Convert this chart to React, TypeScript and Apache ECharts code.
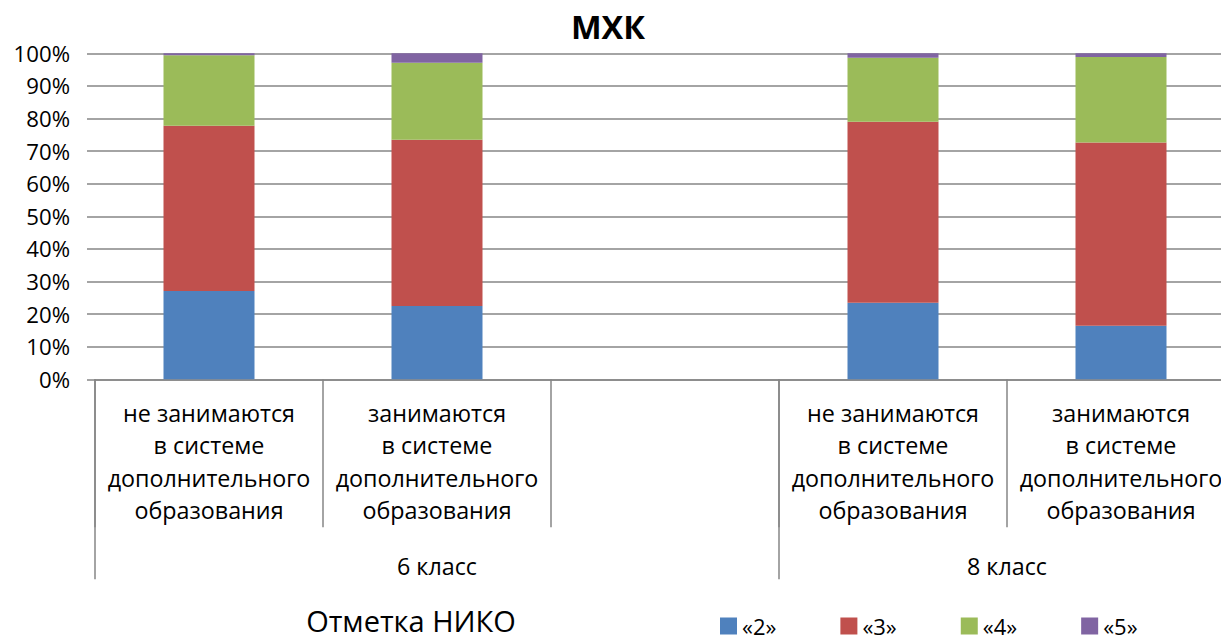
import React, { useEffect, useRef } from "react";
import * as echarts from "echarts";

const categories = [
  "не занимаются\nв системе\nдополнительного\nобразования",
  "занимаются\nв системе\nдополнительного\nобразования",
  "",
  "не занимаются\nв системе\nдополнительного\nобразования",
  "занимаются\nв системе\nдополнительного\nобразования",
];
const groupLabels = ["6 класс", "8 класс"];
const groupLabelPositions = [1.5, 4];
const groupBoundaries = [0, 3, 5];
const seriesNames = ["«2»", "«3»", "«4»", "«5»"];
const grade2 = [27.1, 22.5, "-", 23.5, 16.4];
const grade3 = [50.7, 51.0, "-", 55.5, 56.2];
const grade4 = [21.6, 23.6, "-", 19.6, 26.3];
const grade5 = [0.6, 2.9, "-", 1.4, 1.1];
const colors = ["#4F81BD", "#C0504D", "#9BBB59", "#8064A2"];
const yTicks = [0, 10, 20, 30, 40, 50, 60, 70, 80, 90, 100];

const FONT = "'Open Sans', 'Noto Sans', sans-serif";
const GRAY = "#868686";

export default function App() {
  const ref = useRef<HTMLDivElement>(null);
  useEffect(() => {
    if (!ref.current) return;
    const chart = echarts.init(ref.current, null, { renderer: "svg" });
    const values = [grade2, grade3, grade4, grade5];
    chart.setOption({
      animation: false,
      color: colors,
      textStyle: { fontFamily: FONT, color: "#000" },
      title: [
        {
          text: "МХК",
          left: 603,
          top: 5,
          textAlign: "center",
          textStyle: { fontFamily: FONT, fontWeight: "bold", fontSize: 32.5, color: "#000" },
        },
        {
          text: "Отметка НИКО",
          left: 406,
          top: 601,
          textAlign: "center",
          textStyle: { fontFamily: FONT, fontWeight: "normal", fontSize: 29, color: "#000" },
        },
      ],
      legend: {
        left: 715,
        top: 610,
        padding: 5,
        icon: "rect",
        itemWidth: 17,
        itemHeight: 17,
        itemGap: 64,
        textStyle: { fontFamily: FONT, fontSize: 22, color: "#000" },
        data: seriesNames,
      },
      grid: { left: 95, top: 53.3, width: 1140, height: 326, containLabel: false },
      xAxis: [
        {
          type: "category",
          data: categories,
          boundaryGap: true,
          axisLine: { show: true, lineStyle: { color: GRAY, width: 1.5 } },
          axisTick: { show: true, interval: 0, length: 148, lineStyle: { color: GRAY, width: 1.5 } },
          axisLabel: {
            interval: 0,
            margin: 17,
            fontFamily: FONT,
            fontSize: 23.3,
            lineHeight: 32.6,
            color: "#000",
            align: "center",
          },
        },
        {
          type: "value",
          position: "bottom",
          min: 0,
          max: 5,
          axisLine: { show: false },
          splitLine: { show: false },
          axisTick: {
            show: true,
            customValues: groupBoundaries,
            length: 200,
            lineStyle: { color: GRAY, width: 1.5 },
          },
          axisLabel: {
            customValues: groupLabelPositions,
            margin: 170,
            fontFamily: FONT,
            fontSize: 23.3,
            lineHeight: 32.6,
            color: "#000",
            formatter: (v: number) => {
              const i = groupLabelPositions.indexOf(v);
              return i >= 0 ? groupLabels[i] : "";
            },
          },
        },
      ],
      yAxis: {
        type: "value",
        min: 0,
        max: 100,
        interval: 10,
        axisLine: { show: false },
        axisTick: { show: true, length: 8, lineStyle: { color: GRAY, width: 1.5 } },
        splitLine: { show: true, lineStyle: { color: GRAY, width: 1.5 } },
        axisLabel: {
          margin: 25,
          fontFamily: FONT,
          fontSize: 22.2,
          color: "#000",
          formatter: (v: number) => (yTicks.includes(v) ? v + "%" : ""),
        },
      },
      series: seriesNames.map((name, i) => ({
        name,
        type: "bar",
        stack: "total",
        barWidth: 91,
        data: values[i],
        itemStyle: { color: colors[i] },
      })),
    });
    return () => chart.dispose();
  }, []);
  return (
    <div
      style={{
        position: "fixed",
        left: 0,
        top: 0,
        width: 1221,
        height: 641,
        overflow: "hidden",
        background: "#fff",
      }}
    >
      <div ref={ref} style={{ width: 1240, height: 641 }} />
    </div>
  );
}
